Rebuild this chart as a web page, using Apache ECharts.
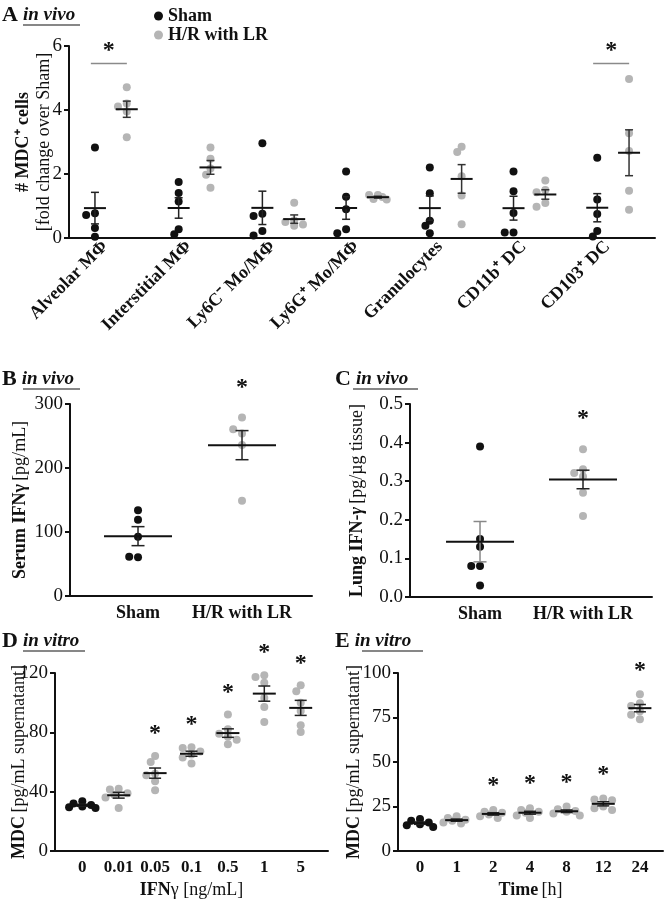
<!DOCTYPE html>
<html><head><meta charset="utf-8">
<script src="https://cdn.jsdelivr.net/npm/echarts@6/dist/echarts.min.js"></script>
<style>html,body{margin:0;padding:0;background:#fff}#c{width:665px;height:900px}</style>
</head><body><div id="c"></div>
<script>
// ---------- DATA ----------
// Panel A: # MDC+ cells, fold change over Sham
const catsA = ['Alveolar MΦ','Interstitial MΦ','Ly6C⁻ Mo/MΦ','Ly6G⁺ Mo/MΦ','Granulocytes','CD11b⁺ DC','CD103⁺ DC'];
const shamA = [[2.83,0.77,0.72,0.31,0.04],[1.75,1.41,1.14,0.27,0.12],[2.96,0.76,0.69,0.22,0.08],[2.08,1.29,0.90,0.27,0.15],[2.20,1.40,0.54,0.38,0.15],[2.08,1.46,0.78,0.17,0.17],[2.51,1.20,0.75,0.22,0.05]];
const hrA   = [[4.71,4.20,4.11,3.95,3.15],[2.83,2.48,2.17,1.98,1.57],[1.10,0.55,0.50,0.42,0.38],[1.34,1.34,1.20,1.22,1.28],[2.85,2.69,1.93,1.33,0.43],[1.80,1.50,1.43,1.09,0.98],[4.97,3.27,2.72,1.48,0.88]];
const sigA  = [true,false,false,false,false,false,true];
const sigLevelA = 5.45;
const yTicksA = {min:0, max:6, interval:2};
// Panel B: Serum IFNγ
const catsB = ['Sham','H/R with LR'];
const shamB = [134,119,92.7,60.4,61.5];
const hrB   = [279,254,260.5,236,149];
const yTicksB = {min:0, max:300, interval:100};
// Panel C: Lung IFN-γ
const catsC = ['Sham','H/R with LR'];
const shamC = [0.39,0.15,0.13,0.08,0.08,0.03];
const hrC   = [0.383,0.331,0.321,0.312,0.270,0.210];
const yTicksC = {min:0, max:0.5, interval:0.1};
// Panel D: MDC vs IFNγ dose
const catsD = ['0','0.01','0.05','0.1','0.5','1','5'];
const valsD = [[33.5,32,31,30,29.5,29],[42,41.5,39,38,36,29],[64,60,52,51,47,41],[70,69.5,67,65,63,59],[92,82,79,77,75,72],[118.5,117.3,113.5,103.2,97.1,87],[111.7,107.7,100,94.4,84.8,80.3]];
const sigD  = [false,false,true,true,true,true,true];
const yTicksD = {min:0, max:120, interval:40};
// Panel E: MDC vs time
const catsE = ['0','1','2','4','8','12','24'];
const valsE = [[18,17,16,15,14.5,13.5],[19.5,18.5,17.5,17,16,15.5],[23,22,21.5,20.5,19.5,18.5],[24,23,22,21.5,20,18.5],[25,23.5,22.5,22,21,20],[29.5,29,28.5,25,24,23],[88,83,81.5,78.5,76.5,74]];
const sigE  = [false,false,true,true,true,true,true];
const yTicksE = {min:0, max:100, interval:25};

// ---------- STYLE / LAYOUT ----------
const FONT = 'Liberation Serif';
const BLACK = '#111', GRAY = '#b5b5b5';
const grids = [
  {left:69, top:46, width:586, height:192},   // A
  {left:70, top:404, width:242, height:192},  // B
  {left:410, top:404, width:242, height:193}, // C
  {left:55, top:673, width:273, height:178},  // D
  {left:398, top:673, width:265, height:178}  // E
].map(g=>Object.assign(g,{containLabel:false, outerBoundsMode:'none'}));
const xRanges = [[0,7],[-0.654,1.673],[-0.68,1.67],[-0.75,6.75],[-0.6,6.63]];
const yR = [yTicksA,yTicksB,yTicksC,yTicksD,yTicksE];
const DOT = 8;

function pxX(g){ return grids[g].width/(xRanges[g][1]-xRanges[g][0]); }
function pxY(g){ return grids[g].height/(yR[g].max-yR[g].min); }

// compact beeswarm: small horizontal offsets, overlap allowed when crowded
function swarm(vals, g){
  const py = pxY(g), px = pxX(g), placed=[], out=[];
  const d = DOT*0.8, step = DOT*0.55, maxN = 6;
  vals.forEach(v=>{
    const y=v*py; let best=0, bestScore=-1;
    for(let n=0;n<=maxN;n++){
      const off = n===0?0:((n%2)?-1:1)*Math.ceil(n/2)*step;
      const mind = placed.length? Math.min(...placed.map(p=>Math.hypot(p[0]-off,p[1]-y))) : 1e9;
      if(mind>=d){ best=off; bestScore=1e9; break; }
      if(mind>bestScore+0.5){ bestScore=mind; best=off; }
    }
    placed.push([best,y]); out.push(best/px);
  });
  return out;
}
function points(vals, x, g){
  const o = swarm(vals, g);
  return vals.map((v,i)=>[x+o[i], v]);
}
function stats(vals){
  const n=vals.length, m=vals.reduce((a,b)=>a+b,0)/n;
  const sd=Math.sqrt(vals.reduce((a,b)=>a+(b-m)*(b-m),0)/(n-1));
  return [m, sd/Math.sqrt(n)];
}

function scatter(name, g, data, color){
  return {type:'scatter', name, xAxisIndex:g, yAxisIndex:g, data, symbol:'circle',
    symbolSize:DOT, itemStyle:{color, opacity:1}, silent:true, z:3, clip:false};
}
function errBars(g, data, hw, cw, errColor){
  return {type:'custom', xAxisIndex:g, yAxisIndex:g, silent:true, z:6, data,
    encode:{x:0,y:1},
    renderItem:(p,api)=>{
      const x=api.value(0), m=api.value(1), s=api.value(2);
      const c=api.coord([x,m]), t=api.coord([x,m+s]), b=api.coord([x,m-s]);
      const col = errColor;
      return {type:'group', children:[
        {type:'line', shape:{x1:c[0],y1:t[1],x2:c[0],y2:b[1]}, style:{stroke:col,lineWidth:1.5}},
        {type:'line', shape:{x1:c[0]-cw,y1:t[1],x2:c[0]+cw,y2:t[1]}, style:{stroke:col,lineWidth:1.5}},
        {type:'line', shape:{x1:c[0]-cw,y1:b[1],x2:c[0]+cw,y2:b[1]}, style:{stroke:col,lineWidth:1.5}},
        {type:'line', shape:{x1:c[0]-hw,y1:c[1],x2:c[0]+hw,y2:c[1]}, style:{stroke:BLACK,lineWidth:2}}
      ]};
    }};
}
function stars(g, data, offPx){
  return {type:'custom', xAxisIndex:g, yAxisIndex:g, silent:true, z:7, data, encode:{x:0,y:1},
    renderItem:(p,api)=>{
      const c=api.coord([api.value(0),api.value(1)]);
      return {type:'text', x:c[0], y:c[1]-offPx,
        style:{text:'*', font:'bold 24px '+FONT, fill:BLACK, align:'center', verticalAlign:'middle'}};
    }};
}

// ---------- SERIES ----------
const series = [];
// A
const shamXA = i=>i+0.31, hrXA = i=>i+0.69;
series.push(scatter('Sham', 0, shamA.flatMap((v,i)=>points(v, shamXA(i), 0)), BLACK));
series.push(scatter('H/R with LR', 0, hrA.flatMap((v,i)=>points(v, hrXA(i), 0)), GRAY));
series.push(errBars(0, shamA.map((v,i)=>[shamXA(i), ...stats(v)]), 11, 4, '#222'));
series.push(errBars(0, hrA.map((v,i)=>[hrXA(i), ...stats(v)]), 11, 4, '#333'));
series.push({type:'custom', xAxisIndex:0, yAxisIndex:0, silent:true, z:7,
  data: sigA.map((s,i)=>s?[i+0.5, sigLevelA]:null).filter(Boolean), encode:{x:0,y:1},
  renderItem:(p,api)=>{
    const c=api.coord([api.value(0),api.value(1)]);
    return {type:'group', children:[
      {type:'line', shape:{x1:c[0]-20,y1:c[1],x2:c[0]+16,y2:c[1]}, style:{stroke:'#8a8a8a',lineWidth:1.5}},
      {type:'text', x:c[0]-2, y:c[1]-13, style:{text:'*', font:'bold 24px '+FONT, fill:BLACK, align:'center', verticalAlign:'middle'}}
    ]};
  }});
// B
series.push(scatter('B Sham', 1, points(shamB, 0, 1), BLACK));
series.push(scatter('B HR', 1, points(hrB, 1, 1), GRAY));
series.push(errBars(1, [[0,...stats(shamB)],[1,...stats(hrB)]], 34, 6.5, '#222'));
series.push(stars(1, [[1, Math.max(...hrB)]], 30));
// C
series.push(scatter('C Sham', 2, points(shamC, 0, 2), BLACK));
series.push(scatter('C HR', 2, points(hrC, 1, 2), GRAY));
series.push(errBars(2, [[0,...stats(shamC)]], 34, 6.5, '#888'));
series.push(errBars(2, [[1,...stats(hrC)]], 34, 6.5, '#222'));
series.push(stars(2, [[1, Math.max(...hrC)]], 30));
// D
series.push(scatter('D ctrl', 3, points(valsD[0], 0, 3), BLACK));
series.push(scatter('D IFN', 3, valsD.slice(1).flatMap((v,i)=>points(v, i+1, 3)), GRAY));
series.push(errBars(3, valsD.map((v,i)=>[i, ...stats(v)]), 11.5, 6, '#222'));
series.push(stars(3, valsD.map((v,i)=>{const s=stats(v);return sigD[i]?[i, Math.max(Math.max(...v), s[0]+s[1])]:null;}).filter(Boolean), 22));
// E
series.push(scatter('E ctrl', 4, points(valsE[0], 0, 4), BLACK));
series.push(scatter('E IFN', 4, valsE.slice(1).flatMap((v,i)=>points(v, i+1, 4)), GRAY));
series.push(errBars(4, valsE.map((v,i)=>[i, ...stats(v)]), 11.5, 6, '#222'));
series.push(stars(4, valsE.map((v,i)=>{const s=stats(v);return sigE[i]?[i, Math.max(Math.max(...v), s[0]+s[1])]:null;}).filter(Boolean), 24));

// ---------- AXES ----------
const rich = {
  b:{fontFamily:FONT, fontWeight:'bold', fontSize:18, color:BLACK},
  r:{fontFamily:FONT, fontSize:18, color:BLACK},
  bi:{fontFamily:FONT, fontWeight:'bold', fontStyle:'italic', fontSize:18, color:BLACK}
};
const axisLine = {show:true, onZero:false, lineStyle:{color:BLACK, width:2}};
function xAxis(g, opts){
  return Object.assign({type:'value', gridIndex:g, min:xRanges[g][0], max:xRanges[g][1],
    axisLine, axisTick:{show:false}, splitLine:{show:false}, nameMoveOverlap:false}, opts);
}
function yAxis(g, name, gap, fmt){
  return {type:'value', gridIndex:g, min:yR[g].min, max:yR[g].max, interval:yR[g].interval,
    axisLine, axisTick:{show:true, length:5, lineStyle:{color:BLACK,width:2}}, splitLine:{show:false},
    axisLabel:{fontFamily:FONT, fontSize:19, color:BLACK, margin:7, formatter:fmt||(v=>String(v))},
    name, nameLocation:'middle', nameRotate:90, nameGap:gap, nameMoveOverlap:false,
    nameTextStyle:{rich, lineHeight:21}};
}
const catLabel = (cats, rot, extra)=>Object.assign({fontFamily:FONT, fontWeight:'bold', fontSize:18, color:BLACK,
  customValues: cats.map((c,i)=>i), formatter:v=>cats[Math.round(v)], margin:8, hideOverlap:false, rotate:rot||0}, extra||{});

const xAxes = [
  xAxis(0, {axisLabel:Object.assign(catLabel(catsA,45,{fontSize:18, margin:6}),
      {customValues:catsA.map((c,i)=>i+0.43), formatter:v=>catsA[Math.floor(v)]})}),
  xAxis(1, {axisLabel:catLabel(catsB)}),
  xAxis(2, {axisLabel:catLabel(catsC)}),
  xAxis(3, {axisLabel:catLabel(catsD,0,{fontSize:17}), name:'{b|IFN}{r|γ [ng/mL]}', nameLocation:'middle', nameGap:30, nameTextStyle:{rich}}),
  xAxis(4, {axisLabel:catLabel(catsE,0,{fontSize:17}), name:'{b|Time} {r|[h]}', nameLocation:'middle', nameGap:30, nameTextStyle:{rich}})
];
const yAxes = [
  yAxis(0, '{b|# MDC⁺ cells}\n{r|[fold change over Sham]}', 14),
  yAxis(1, '{b|Serum IFNγ} {r|[pg/mL]}', 39),
  yAxis(2, '{b|Lung IFN-}{bi|γ} {r|[pg/µg tissue]}', 42, v=>v.toFixed(1)),
  yAxis(3, '{b|MDC} {r|[pg/mL supernatant]}', 25),
  yAxis(4, '{b|MDC} {r|[pg/mL supernatant]}', 33)
];

// ---------- TITLES ----------
const tRich = {L:{fontFamily:FONT, fontWeight:'bold', fontSize:22, color:BLACK},
               i:{fontFamily:FONT, fontStyle:'italic', fontSize:19, color:BLACK}};
const titles = [['A','in vivo',2,4],['B','in vivo',2,368],['C','in vivo',335,368],['D','in vitro',2,630],['E','in vitro',335,630]]
  .map(t=>({text:'{L|'+t[0]+'} {i|'+t[1]+'}', left:t[2], top:t[3], padding:0, textStyle:{rich:tRich}}));
const underlines = [[23,80,25],[23,80,389],[353,418,389],[23,85,651],[362,423,651]]
  .map(u=>({type:'line', shape:{x1:u[0],y1:u[2],x2:u[1],y2:u[2]}, style:{stroke:BLACK,lineWidth:1.2}}));

const chart = echarts.init(document.getElementById('c'), null, {renderer:'canvas'});
chart.setOption({
  animation:false,
  backgroundColor:'#fff',
  title:titles,
  legend:{data:[{name:'Sham',icon:'circle'},{name:'H/R with LR',icon:'circle'}], orient:'vertical', left:149, top:2,
    itemWidth:9, itemHeight:9, itemGap:1, selectedMode:false,
    textStyle:{fontFamily:FONT, fontWeight:'bold', fontSize:18, lineHeight:18, color:BLACK}},
  grid:grids,
  xAxis:xAxes, yAxis:yAxes,
  series,
  graphic:underlines
});
</script></body></html>
